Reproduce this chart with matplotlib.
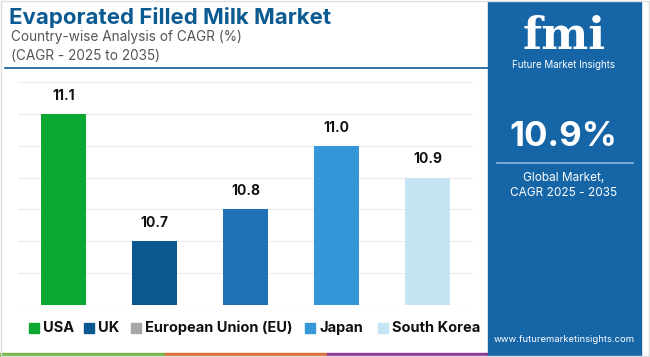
import matplotlib
matplotlib.use("Agg")
import matplotlib.pyplot as plt
from matplotlib.patches import Rectangle
from matplotlib.lines import Line2D

plt.rcParams["font.family"] = ["Inter", "DejaVu Sans"]

countries = ["USA", "UK", "European Union (EU)", "Japan", "South Korea"]
cagr = [11.1, 10.7, 10.8, 11.0, 10.9]
bar_colors = ["#0ca832", "#0b5891", "#1f72b5", "#3498d8", "#c5e4f4"]
legend_colors = ["#0ca832", "#0b5891", "#a6a6a6", "#3498d8", "#c5e4f4"]
global_cagr = "10.9%"

W, H = 650, 357
PANEL = "#1565a7"
TITLE = "#0c5a92"


def fx(x):
    return x / W


def fy(y):
    return 1 - y / H


fig = plt.figure(figsize=(W / 100, H / 100), dpi=100)
fig.patch.set_facecolor("white")

# ---- bars ----
ax = fig.add_axes([fx(18), fy(305), fx(473) - fx(18), fy(82) - fy(305)])
x = range(len(countries))
ax.bar(x, cagr, width=0.5, color=bar_colors, zorder=3)
ax.set_xlim(-0.5, len(countries) - 0.5)
ax.set_ylim(10.5, 11.2)
ax.set_yticks([10.5 + 0.1 * i for i in range(8)])
ax.grid(axis="y", color="#ebebeb", linewidth=0.8, zorder=0)
ax.tick_params(left=False, bottom=False, labelleft=False, labelbottom=False)
for s in ax.spines.values():
    s.set_visible(False)
for i, v in enumerate(cagr):
    ax.text(i, v + 0.035, f"{v:.1f}", ha="center", va="bottom",
            fontsize=10, fontweight="bold", color="#111111")

# ---- titles ----
fig.text(fx(9), fy(17), "Evaporated Filled Milk Market", fontsize=16,
         fontweight="bold", color=TITLE, va="center")
fig.text(fx(11), fy(37), "Country-wise Analysis of CAGR (%)", fontsize=9.8,
         color="#555555", va="center")
fig.text(fx(11), fy(56), "(CAGR - 2025 to 2035)", fontsize=9.8,
         color="#555555", va="center")
fig.add_artist(Line2D([fx(5), fx(488)], [fy(68), fy(68)], color=TITLE, lw=1.2))

# ---- legend ----
leg_x = [29, 84, 131, 305, 378]
for lx, name, c in zip(leg_x, countries, legend_colors):
    fig.add_artist(Rectangle((fx(lx), fy(333)), fx(10), 10 / H, color=c))
    fig.text(fx(lx + 14), fy(328), name, fontsize=10.5, fontweight="bold",
             color="#111111", va="center")

# ---- bottom strip ----
for x0, x1, c in [(0, 165, "#7ab648"), (165, 327, "#e0703a"), (327, 488, "#8e3a96")]:
    fig.add_artist(Rectangle((fx(x0), 0), fx(x1 - x0), 4 / H, color=c))

# ---- right panel ----
fig.add_artist(Rectangle((fx(488), 0), fx(641 - 488), fy(2), color=PANEL))
fig.text(fx(564), fy(49), "fmi", fontsize=32, fontweight="bold", color="white",
         ha="center", va="baseline", family=["DejaVu Serif"])
for yy in range(17, 50, 5):
    fig.add_artist(Line2D([fx(508), fx(622)], [fy(yy), fy(yy)], color=PANEL, lw=1.1))
fig.text(fx(564), fy(65), "Future Market Insights", fontsize=7, color="white",
         ha="center", va="center")
fig.text(fx(563), fy(137), global_cagr, fontsize=25, fontweight="bold",
         color="white", ha="center", va="center")
fig.add_artist(Line2D([fx(497), fx(633)], [fy(163), fy(163)], color="#8fb7dc", lw=1.2))
fig.text(fx(564), fy(178), "Global Market,", fontsize=8.5, color="white",
         ha="center", va="center")
fig.text(fx(564), fy(193), "CAGR 2025 - 2035", fontsize=8.5, color="white",
         ha="center", va="center")
fig.text(fx(564), fy(340), "www.futuremarketinsights.com", fontsize=6.8,
         color="white", ha="center", va="center")

# ---- outer frame ----
fig.add_artist(Rectangle((0.002, 0.003), 0.996, 0.994, fill=False,
                         edgecolor="#dddddd", lw=1))

fig.savefig("out.png", dpi=100)
